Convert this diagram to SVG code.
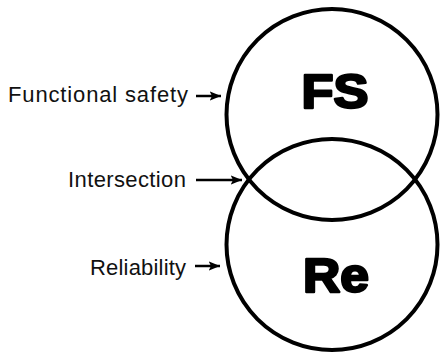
<svg xmlns="http://www.w3.org/2000/svg" width="442" height="356" viewBox="0 0 442 356">
<style>
.circ{fill:none;stroke:#000;stroke-width:4}
.lbl{font-family:"Liberation Sans",Arial,sans-serif;font-size:22px;fill:#111}
.big{font-family:"Liberation Sans",Arial,sans-serif;font-size:48px;font-weight:bold;fill:#000;stroke:#000;stroke-width:2.5;stroke-linejoin:round;text-anchor:middle}
.arr{stroke:#000;stroke-width:2.5;fill:none}
</style>
<defs>
<marker id="ah" viewBox="0 0 10 10" refX="10" refY="5" markerWidth="4.5" markerHeight="4.5" markerUnits="strokeWidth" orient="auto">
<path d="M0,1 L10,5 L0,9 L2,5 Z" fill="#000"/>
</marker>
</defs>
<rect width="442" height="356" fill="#fff"/>
<g id="fs">
<circle class="circ" cx="332" cy="114.5" r="105.5"/>
<text class="big" x="335" y="108" textLength="67" lengthAdjust="spacingAndGlyphs">FS</text>
</g>
<g id="re">
<circle class="circ" cx="332" cy="244.5" r="105.5"/>
<text class="big" x="336" y="292" textLength="66" lengthAdjust="spacingAndGlyphs">Re</text>
</g>
<g id="labels">
<text class="lbl" x="8" y="102" textLength="180" lengthAdjust="spacing">Functional  safety</text>
<text class="lbl" x="68" y="187" textLength="118" lengthAdjust="spacing">Intersection</text>
<text class="lbl" x="90" y="275" textLength="96" lengthAdjust="spacing">Reliability</text>
</g>
<g id="connectors">
<line class="arr" x1="196" y1="96" x2="221" y2="96" marker-end="url(#ah)"/>
<line class="arr" x1="196" y1="180" x2="242" y2="180" stroke-width="3" marker-end="url(#ah)"/>
<line class="arr" x1="195" y1="266" x2="220" y2="266" marker-end="url(#ah)"/>
</g>
</svg>
